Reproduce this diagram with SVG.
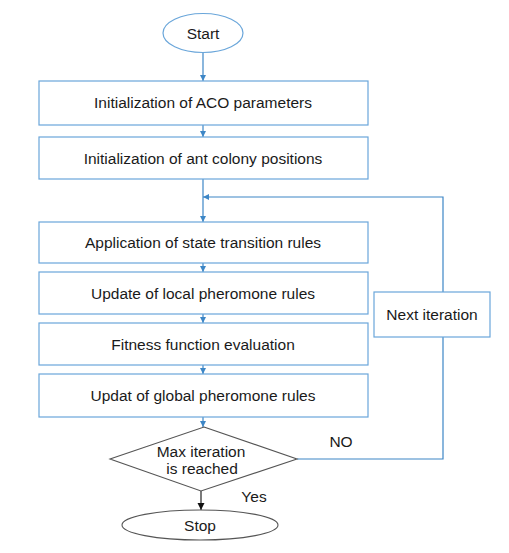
<svg xmlns="http://www.w3.org/2000/svg" width="509" height="553" viewBox="0 0 509 553">
<style>
.box{fill:#fff;stroke:#6aa6da;stroke-width:1.2}
.t{font-family:"Liberation Sans",Arial,sans-serif;font-size:15.5px;fill:#1a1a1a;text-anchor:middle}
.c{fill:none;stroke:#3d86c6;stroke-width:1.2}
.k{fill:none;stroke:#222;stroke-width:1.2}
</style>
<defs>
<marker id="a" viewBox="0 0 10 10" refX="10" refY="5" markerWidth="5" markerHeight="5" orient="auto"><path d="M0,0 L10,5 L0,10 z" fill="#3d86c6"/></marker>
<marker id="ak" viewBox="0 0 10 10" refX="10" refY="5" markerWidth="6" markerHeight="6" orient="auto"><path d="M0,0 L10,5 L0,10 z" fill="#111"/></marker>
</defs>
<rect width="509" height="553" fill="#fff"/>
<g id="connectors">
<path class="c" d="M203,53 V81" marker-end="url(#a)"/>
<path class="c" d="M203,125 V137" marker-end="url(#a)"/>
<path class="c" d="M203,179 V222" marker-end="url(#a)"/>
<path class="c" d="M203,263 V272" marker-end="url(#a)"/>
<path class="c" d="M203,314 V323" marker-end="url(#a)"/>
<path class="c" d="M203,365 V374" marker-end="url(#a)"/>
<path class="c" d="M203,417 V427" marker-end="url(#a)"/>
<path class="c" d="M297,459 H443 V197 H203" marker-end="url(#a)"/>
<path class="k" d="M201,491 V510" marker-end="url(#ak)"/>
<text class="t" x="341" y="447">NO</text>
<text class="t" x="254" y="502">Yes</text>
</g>
<g id="start">
<ellipse cx="203" cy="33" rx="40" ry="19.5" fill="#fff" stroke="#6aa6da" stroke-width="1.2"/>
<text class="t" x="203" y="39">Start</text>
</g>
<g id="n1"><rect class="box" x="39" y="81" width="329" height="44"/><text class="t" x="203" y="108">Initialization of ACO parameters</text></g>
<g id="n2"><rect class="box" x="39" y="137" width="329" height="42"/><text class="t" x="203" y="164">Initialization of ant colony positions</text></g>
<g id="n3"><rect class="box" x="39" y="222" width="329" height="41"/><text class="t" x="203" y="248">Application of state transition rules</text></g>
<g id="n4"><rect class="box" x="39" y="272" width="329" height="42"/><text class="t" x="203" y="299">Update of local pheromone rules</text></g>
<g id="n5"><rect class="box" x="39" y="323" width="329" height="42"/><text class="t" x="203" y="350">Fitness function evaluation</text></g>
<g id="n6"><rect class="box" x="39" y="374" width="329" height="43"/><text class="t" x="203" y="401">Updat of global pheromone rules</text></g>
<g id="next"><rect class="box" x="374" y="292" width="116" height="45"/><text class="t" x="432" y="320">Next iteration</text></g>
<g id="decision">
<polygon points="204,427 297,459 201,491 110,459" fill="#fff" stroke="#555" stroke-width="1.1"/>
<text class="t" x="201" y="457">Max iteration</text>
<text class="t" x="202" y="474">is reached</text>
</g>
<g id="stop">
<ellipse cx="200" cy="525" rx="78" ry="15" fill="#fff" stroke="#555" stroke-width="1.1"/>
<text class="t" x="200" y="531">Stop</text>
</g>
</svg>
